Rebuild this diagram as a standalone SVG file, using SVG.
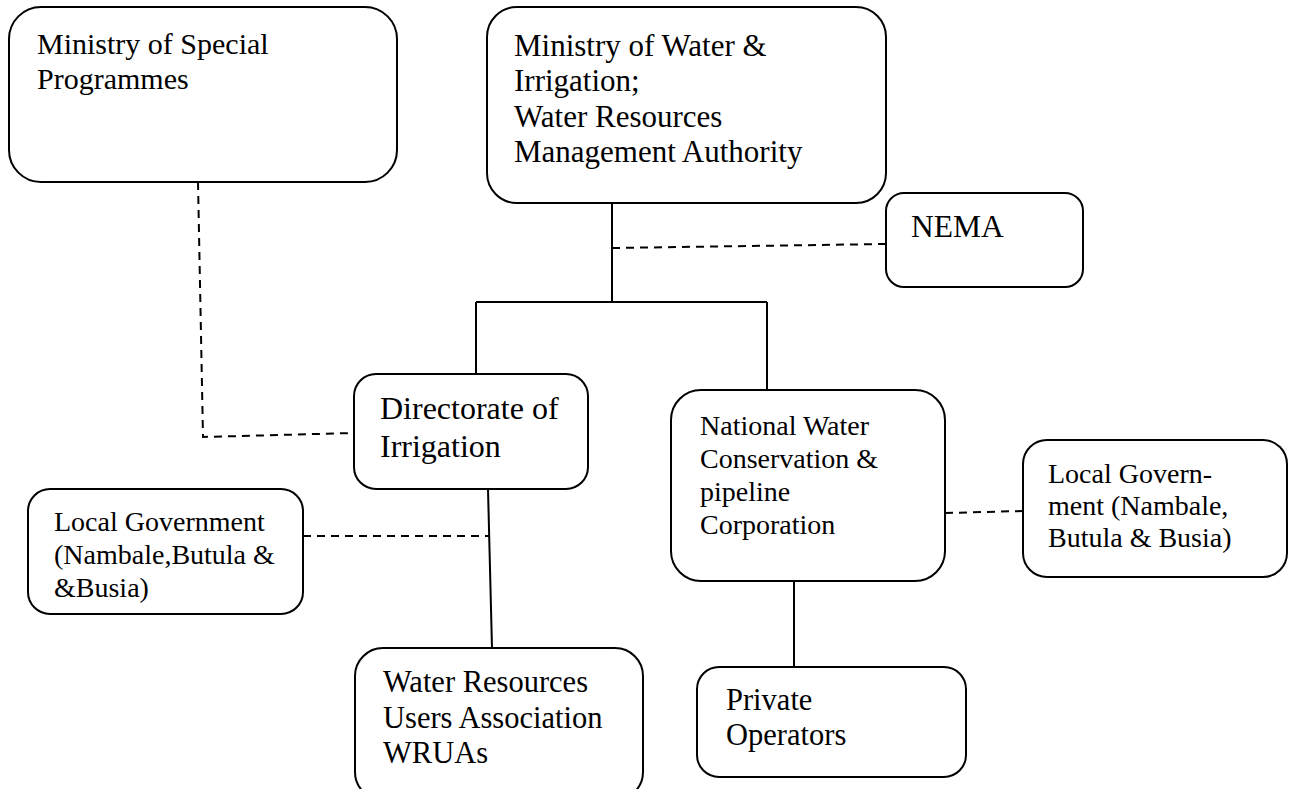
<svg xmlns="http://www.w3.org/2000/svg" width="1294" height="789" viewBox="0 0 1294 789">
<style>
.box{fill:#fff;stroke:#000;stroke-width:2}
.t{font-family:"Liberation Serif","Times New Roman",serif;fill:#000}
.solid{stroke:#000;stroke-width:2;fill:none}
.dash{stroke:#000;stroke-width:2;fill:none;stroke-dasharray:8,6}
</style>
<rect width="1294" height="789" fill="#fff"/>
<g id="connectors">
<path class="solid" d="M612,199 L612,302"/>
<path class="solid" d="M476,302 L767,302"/>
<path class="solid" d="M476,302 L476,382"/>
<path class="solid" d="M767,302 L767,398"/>
<path class="solid" d="M488,489 L492,648"/>
<path class="solid" d="M794,578 L794,667"/>
<path class="dash" d="M612,248 L886,244"/>
<path class="dash" d="M198,182 L203,437 L354,433"/>
<path class="dash" d="M303,536 L490,536"/>
<path class="dash" d="M945,513 L1023,511"/>
</g>
<g id="n-special">
<rect class="box" x="9" y="7" width="388" height="175" rx="32"/>
<text class="t" font-size="30"><tspan x="37" y="54">Ministry of Special</tspan><tspan x="37" y="89">Programmes</tspan></text>
</g>
<g id="n-water">
<rect class="box" x="487" y="7" width="399" height="196" rx="30"/>
<text class="t" font-size="31"><tspan x="514" y="56">Ministry of Water &amp;</tspan><tspan x="514" y="91">Irrigation;</tspan><tspan x="514" y="127">Water Resources</tspan><tspan x="514" y="162">Management Authority</tspan></text>
</g>
<g id="n-nema">
<rect class="box" x="886" y="193" width="197" height="94" rx="18"/>
<text class="t" font-size="31.5"><tspan x="911" y="237">NEMA</tspan></text>
</g>
<g id="n-directorate">
<rect class="box" x="354" y="374" width="234" height="115" rx="22"/>
<text class="t" font-size="32"><tspan x="380" y="419">Directorate of</tspan><tspan x="380" y="457">Irrigation</tspan></text>
</g>
<g id="n-nwcpc">
<rect class="box" x="671" y="390" width="274" height="191" rx="30"/>
<text class="t" font-size="28"><tspan x="700" y="435">National Water</tspan><tspan x="700" y="468">Conservation &amp;</tspan><tspan x="700" y="501">pipeline</tspan><tspan x="700" y="534">Corporation</tspan></text>
</g>
<g id="n-lg-left">
<rect class="box" x="28" y="489" width="275" height="125" rx="22"/>
<text class="t" font-size="28"><tspan x="54" y="531">Local Government</tspan><tspan x="54" y="564">(Nambale,Butula &amp;</tspan><tspan x="54" y="597">&amp;Busia)</tspan></text>
</g>
<g id="n-lg-right">
<rect class="box" x="1023" y="440" width="264" height="137" rx="24"/>
<text class="t" font-size="28"><tspan x="1048" y="483">Local Govern-</tspan><tspan x="1048" y="515">ment (Nambale,</tspan><tspan x="1048" y="547">Butula &amp; Busia)</tspan></text>
</g>
<g id="n-wrua">
<rect class="box" x="355" y="648" width="288" height="152" rx="28"/>
<text class="t" font-size="30.5"><tspan x="383" y="692">Water Resources</tspan><tspan x="383" y="728">Users Association</tspan><tspan x="383" y="763">WRUAs</tspan></text>
</g>
<g id="n-private">
<rect class="box" x="697" y="667" width="269" height="110" rx="22"/>
<text class="t" font-size="30.5"><tspan x="726" y="710">Private</tspan><tspan x="726" y="745">Operators</tspan></text>
</g>
</svg>
